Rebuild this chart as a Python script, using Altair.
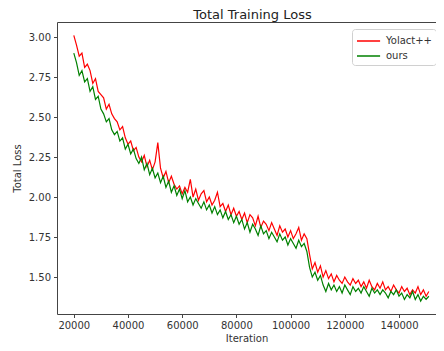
import altair as alt
import pandas as pd

start_iter = 20000
step_iter = 1000

yolact = [
    3.01, 2.95, 2.88, 2.90, 2.81, 2.83, 2.79, 2.71, 2.74, 2.66,
    2.64, 2.62, 2.55, 2.58, 2.52, 2.49, 2.47, 2.42, 2.44, 2.37,
    2.33, 2.35, 2.29, 2.31, 2.25, 2.22, 2.26, 2.19, 2.23, 2.17,
    2.22, 2.34, 2.18, 2.12, 2.16, 2.09, 2.13, 2.08, 2.05, 2.07,
    2.02, 2.06, 2.03, 2.11, 2.00, 2.05, 1.98, 2.02, 2.04, 1.97,
    2.00, 1.95, 1.98, 2.03, 1.94, 1.96, 1.91, 1.95, 1.89, 1.93,
    1.88, 1.91, 1.86, 1.90, 1.84, 1.89, 1.87, 1.82, 1.88, 1.81,
    1.85, 1.83, 1.79, 1.84, 1.80, 1.76, 1.82, 1.78, 1.80, 1.75,
    1.79, 1.74, 1.77, 1.81, 1.73, 1.77, 1.74, 1.64, 1.55, 1.59,
    1.53, 1.57, 1.50, 1.54, 1.49, 1.52, 1.47, 1.51, 1.48, 1.46,
    1.50, 1.47, 1.45, 1.49, 1.46, 1.48, 1.44, 1.47, 1.43, 1.48,
    1.44, 1.42, 1.46, 1.43, 1.47, 1.42, 1.44, 1.41, 1.45, 1.42,
    1.40, 1.44, 1.41, 1.43, 1.39, 1.42, 1.40, 1.44, 1.39, 1.42,
    1.38, 1.41,
]

ours = [
    2.90, 2.84, 2.76, 2.79, 2.72, 2.74, 2.66, 2.69, 2.61, 2.63,
    2.55, 2.52, 2.47, 2.49, 2.42, 2.39, 2.41, 2.35, 2.37, 2.30,
    2.33, 2.27, 2.30, 2.24, 2.21, 2.25, 2.17, 2.21, 2.14, 2.18,
    2.12, 2.15, 2.09, 2.13, 2.06, 2.10, 2.03, 2.07, 2.01, 2.05,
    1.99, 2.04, 1.97, 2.00, 1.95, 1.99, 1.96, 1.93, 1.97, 1.92,
    1.95, 1.90, 1.94, 1.89, 1.92, 1.87, 1.91, 1.86, 1.89, 1.84,
    1.88, 1.83, 1.86, 1.80, 1.84, 1.78, 1.83, 1.80, 1.76, 1.82,
    1.77, 1.79, 1.74, 1.78, 1.75, 1.72, 1.77, 1.73, 1.75, 1.70,
    1.74, 1.71, 1.68, 1.73, 1.69, 1.71, 1.66, 1.56, 1.50, 1.53,
    1.48, 1.51, 1.45, 1.41, 1.46, 1.42, 1.45, 1.41, 1.44, 1.40,
    1.45, 1.42, 1.39, 1.44, 1.41, 1.43, 1.40, 1.44, 1.41, 1.38,
    1.43, 1.40, 1.42, 1.39, 1.42, 1.40, 1.37, 1.41, 1.39, 1.42,
    1.38, 1.40, 1.36, 1.39, 1.37, 1.41, 1.36, 1.39, 1.35, 1.38,
    1.36, 1.38,
]

series_names = ["Yolact++", "ours"]
series_colors = ["#ff0000", "#008000"]
x_ticks = [20000, 40000, 60000, 80000, 100000, 120000, 140000]
y_ticks = [1.50, 1.75, 2.00, 2.25, 2.50, 2.75, 3.00]

rows = []
for name, vals in zip(series_names, [yolact, ours]):
    for i, v in enumerate(vals):
        rows.append({"Iteration": start_iter + i * step_iter, "loss": v, "series": name})
df = pd.DataFrame(rows)

FONT = "DejaVu Sans"
TXT = "#333333"

xscale = alt.Scale(domain=[13800, 153650], nice=False, zero=False)
yscale = alt.Scale(domain=[1.269, 3.094], nice=False, zero=False)

base = alt.Chart(df)

lines = base.mark_line(strokeWidth=1.2, clip=True).encode(
    x=alt.X("Iteration:Q", scale=xscale,
            axis=alt.Axis(values=x_ticks, format="d", title="Iteration", grid=False,
                          orient="bottom", tickSize=3.5, labelPadding=3, titlePadding=3)),
    y=alt.Y("loss:Q", scale=yscale,
            axis=alt.Axis(values=y_ticks, format=".2f", title="Total Loss", grid=False,
                          tickSize=3.5, labelPadding=3, titlePadding=6)),
    color=alt.Color("series:N", sort=series_names,
                    scale=alt.Scale(domain=series_names, range=series_colors),
                    legend=alt.Legend(title=None, orient="none", legendX=295, legendY=7,
                                      symbolType="M-1,0H2.3", symbolSize=196,
                                      symbolStrokeWidth=1.5, labelFontSize=10,
                                      labelFont=FONT, labelColor=TXT,
                                      strokeColor="#d0d0d0", fillColor="white",
                                      padding=4, cornerRadius=3, rowPadding=2,
                                      labelOffset=14)),
    detail="series:N",
)

topframe = base.mark_line(opacity=0).encode(
    x=alt.X("Iteration:Q", scale=xscale,
            axis=alt.Axis(orient="top", labels=False, ticks=False, title=None, grid=False,
                          minExtent=0, maxExtent=0, offset=0)),
    y=alt.Y("loss:Q", scale=yscale),
)

chart = alt.layer(lines, topframe).resolve_axis(x="independent").properties(
    width=379,
    height=292,
    title=alt.Title("Total Training Loss", font=FONT, fontSize=13,
                    fontWeight="normal", color="#222222", offset=0, dy=0, dx=6),
    autosize=alt.AutoSizeParams(type="none"),
    padding={"left": 49, "top": 14, "right": 0, "bottom": 29},
).configure_view(stroke=None).configure_axis(
    labelFont=FONT, titleFont=FONT, labelFontSize=10, titleFontSize=10,
    labelColor=TXT, titleColor=TXT, titleFontWeight="normal",
    domainColor="#444444", tickColor="#444444", domainWidth=1,
)

chart.save("out.html", embed_options={"renderer": "svg", "actions": False})
